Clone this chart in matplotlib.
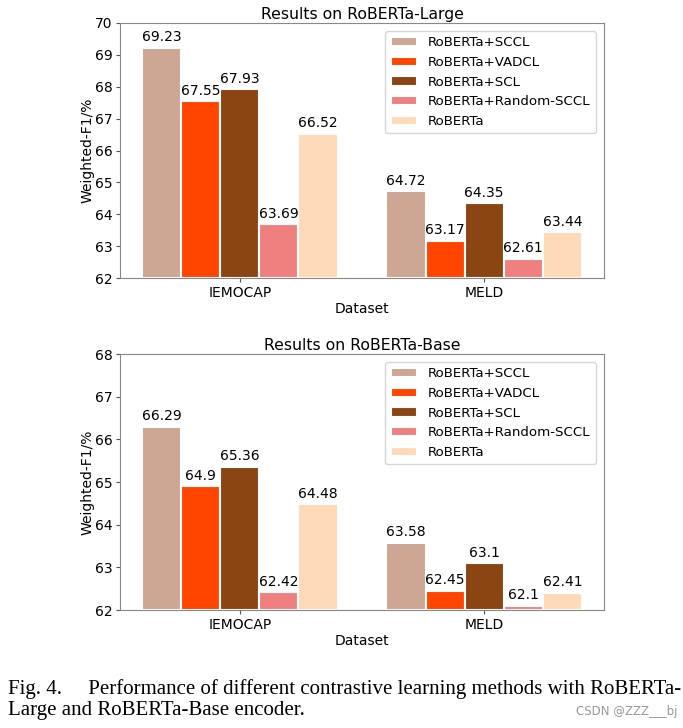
import matplotlib
matplotlib.use("Agg")
import matplotlib.pyplot as plt
import numpy as np

datasets = ["IEMOCAP", "MELD"]
methods = ["RoBERTa+SCCL", "RoBERTa+VADCL", "RoBERTa+SCL", "RoBERTa+Random-SCCL", "RoBERTa"]
colors = ["#CDA694", "#FF4500", "#8B4513", "#F08080", "#FFDAB9"]

large_vals = [
    [69.23, 64.72],
    [67.55, 63.17],
    [67.93, 64.35],
    [63.69, 62.61],
    [66.52, 63.44],
]
base_vals = [
    [66.29, 63.58],
    [64.9, 62.45],
    [65.36, 63.1],
    [62.42, 62.1],
    [64.48, 62.41],
]

plt.rcParams["font.family"] = ["DejaVu Sans"]
plt.rcParams["font.size"] = 10

W, H = 683, 728
fig = plt.figure(figsize=(W / 100, H / 100), dpi=100)


def draw(ax, vals, title, ylim):
    x = np.arange(len(datasets))
    w = 0.16
    for i, (m, c) in enumerate(zip(methods, colors)):
        pos = x + (i - 2) * w
        bars = ax.bar(pos, [v - ylim[0] for v in vals[i]], w, bottom=ylim[0],
                      color=c, edgecolor="white", linewidth=1.5, label=m)
        for b, v in zip(bars, vals[i]):
            ax.annotate(f"{v:g}", (b.get_x() + b.get_width() / 2, v),
                        xytext=(0, 2.5), textcoords="offset points",
                        ha="center", va="bottom", fontsize=10)
    ax.set_ylim(*ylim)
    ax.set_xticks(x)
    ax.set_xticklabels(datasets)
    ax.tick_params(length=3, pad=2.5, labelsize=10, color="#555555")
    ax.set_xlabel("Dataset", fontsize=10, labelpad=2)
    ax.set_ylabel("Weighted-F1/%", fontsize=10, labelpad=0)
    ax.set_title(title, fontsize=11.3, pad=3)
    for s in ax.spines.values():
        s.set_color("#888888")
    ax.legend(loc="upper right", fontsize=9.6, borderaxespad=0.6)


ax1 = fig.add_axes([120 / W, 1 - 278 / H, 484 / W, 255 / H])
draw(ax1, large_vals, "Results on RoBERTa-Large", (62, 70))
ax2 = fig.add_axes([120 / W, 1 - 610 / H, 484 / W, 256 / H])
draw(ax2, base_vals, "Results on RoBERTa-Base", (62, 68))

fig.text(8 / W, 1 - 689 / H,
         "Fig. 4.     Performance of different contrastive learning methods with RoBERTa-",
         family="Liberation Serif", fontsize=15, va="center", ha="left")
fig.text(8 / W, 1 - 710 / H, "Large and RoBERTa-Base encoder.",
         family="Liberation Serif", fontsize=15, va="center", ha="left")
fig.text(678 / W, 1 - 711 / H, "CSDN @ZZZ___bj", fontsize=8.5, color="#999999",
         va="center", ha="right", family="Liberation Sans Narrow")

fig.savefig("out.png", dpi=100)
